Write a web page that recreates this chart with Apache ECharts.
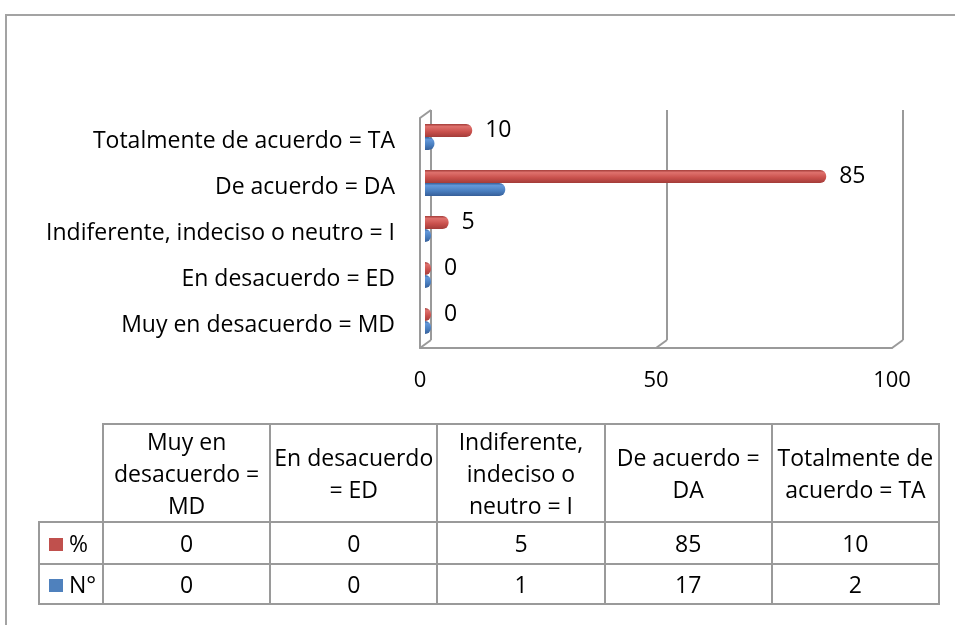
<!DOCTYPE html>
<html>
<head>
<meta charset="utf-8" />
<script src="https://cdn.jsdelivr.net/npm/echarts@6.0.0/dist/echarts.min.js"></script>
<style>
  body { margin: 0; background: #fff; font-family: "Open Sans", "DejaVu Sans", sans-serif; }
  .frame {
    position: absolute; left: 5px; top: 14px; width: 960px; height: 620px;
    border-top: 2px solid #a3a3a3; border-left: 2px solid #a3a3a3;
  }
  #chart { position: absolute; left: 0; top: 0; width: 955px; height: 625px; }
  #tabla {
    position: absolute; left: 38px; top: 423px; width: 902px;
    border-collapse: collapse; table-layout: fixed;
    font-size: 23px; color: #000;
  }
  #tabla td { border: 2px solid #9a9a9a; text-align: center; padding: 0; overflow: visible; }
  #tabla td.blank { border-top: none; border-left: none; }
  #tabla tr.head td { height: 96px; white-space: pre; line-height: 32px; }
  #tabla tr.r1 td { height: 40px; }
  #tabla tr.r2 td { height: 38px; }
  #tabla td.leg { text-align: left; padding-left: 9px; }
  .sw { display: inline-block; width: 14px; height: 13px; margin-right: 6px; vertical-align: 1px; }
</style>
</head>
<body>
<div class="frame"></div>
<div id="chart"></div>
<table id="tabla"></table>
<script>
// datos
var categorias = ['Muy en desacuerdo = MD', 'En desacuerdo = ED', 'Indiferente, indeciso o neutro = I', 'De acuerdo = DA', 'Totalmente de acuerdo = TA'];
var encabezados = ['Muy en\ndesacuerdo =\nMD', 'En desacuerdo\n= ED', 'Indiferente,\nindeciso o\nneutro = I', 'De acuerdo =\nDA', 'Totalmente de\nacuerdo = TA'];
var porcentaje = [0, 0, 5, 85, 10];
var numero = [0, 0, 1, 17, 2];
var nombres = ['%', 'N°'];
var colores = ['#c0504d', '#4f81bd'];
var ticksX = [0, 50, 100];

var fuente = '"Open Sans", "DejaVu Sans", sans-serif';
var gris = '#9a9a9a';

// paredes 3D del fondo
function paredes(params, api) {
  var cs = params.coordSys;
  var v = api.value(0);
  var x = api.coord([v, 0])[0];
  var dx = 11, dy = -8;
  var top = cs.y, bot = cs.y + cs.height;
  var st = { stroke: gris, lineWidth: 2 };
  var hijos = [
    { type: 'line', shape: { x1: x + dx, y1: top + dy, x2: x + dx, y2: bot + dy }, style: st },
    { type: 'line', shape: { x1: x, y1: bot, x2: x + dx, y2: bot + dy }, style: st }
  ];
  if (v === ticksX[0]) {
    hijos.push({ type: 'line', shape: { x1: x, y1: top, x2: x + dx, y2: top + dy }, style: st });
  }
  return { type: 'group', children: hijos };
}

function degradado(c1, c2, c3) {
  return new echarts.graphic.LinearGradient(0, 0, 0, 1, [
    { offset: 0, color: c3 },
    { offset: 0.2, color: c1 },
    { offset: 0.6, color: c2 },
    { offset: 1, color: c3 }
  ]);
}

var chart = echarts.init(document.getElementById('chart'));
var option = {
  animation: false,
  textStyle: { fontFamily: fuente },
  grid: [
    { left: 420, top: 118, width: 472, height: 230 },
    // barras algo desplazadas (profundidad 3D)
    { left: 425, top: 114, width: 472, height: 230 }
  ],
  xAxis: [
    {
      type: 'value', min: 0, max: 100, interval: 50, gridIndex: 0,
      axisLine: { show: true, lineStyle: { color: gris, width: 2 } },
      axisTick: { show: false },
      splitLine: { show: false },
      axisLabel: { fontSize: 22, color: '#000', margin: 22, fontFamily: fuente }
    },
    { type: 'value', min: 0, max: 100, gridIndex: 1, show: false }
  ],
  yAxis: [
    {
      type: 'category', data: categorias, gridIndex: 0,
      axisLine: { show: true, lineStyle: { color: gris, width: 2 } },
      axisTick: { show: false },
      axisLabel: { fontSize: 23, color: '#000', margin: 25, fontFamily: fuente, padding: [10, 0, 0, 0] }
    },
    { type: 'category', data: categorias, gridIndex: 1, show: false }
  ],
  series: [
    {
      type: 'custom', silent: true, z: 1,
      renderItem: paredes,
      data: ticksX.map(function (t) { return [t]; })
    },
    {
      name: nombres[0], type: 'bar', data: porcentaje, z: 3,
      xAxisIndex: 1, yAxisIndex: 1,
      barWidth: 13, barGap: '0%', barMinHeight: 6,
      itemStyle: { color: degradado('#df716d', '#c9504c', '#a33c39'), borderRadius: [0, 6, 6, 0] },
      label: { show: true, position: 'right', distance: 13, fontSize: 23, color: '#000', fontFamily: fuente }
    },
    {
      name: nombres[1], type: 'bar', data: numero, z: 3,
      xAxisIndex: 1, yAxisIndex: 1,
      barWidth: 13, barGap: '0%', barMinHeight: 6,
      itemStyle: { color: degradado('#6398da', '#4a7fc0', '#365f99'), borderRadius: [0, 6, 6, 0] }
    }
  ]
};
chart.setOption(option);

// tabla de datos
var html = '<colgroup><col style="width:64px">';
for (var i = 0; i < encabezados.length; i++) html += '<col>';
html += '</colgroup><tr class="head"><td class="blank"></td>';
encabezados.forEach(function (h) { html += '<td>' + h + '</td>'; });
html += '</tr>';
[porcentaje, numero].forEach(function (serie, k) {
  html += '<tr class="r' + (k + 1) + '"><td class="leg"><span class="sw" style="background:' + colores[k] + '"></span>' + nombres[k] + '</td>';
  serie.forEach(function (v) { html += '<td>' + v + '</td>'; });
  html += '</tr>';
});
document.getElementById('tabla').innerHTML = html;
</script>
</body>
</html>
